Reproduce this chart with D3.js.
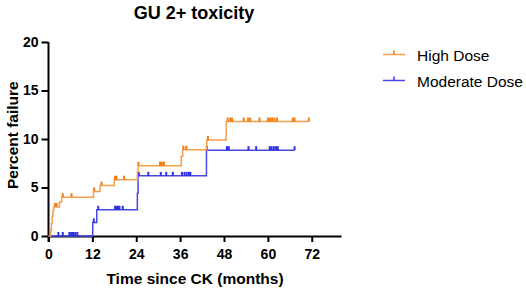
<!DOCTYPE html>
<html>
<head>
<meta charset="utf-8">
<title>GU 2+ toxicity</title>
<script src="https://cdn.jsdelivr.net/npm/d3@7"></script>
<style>
  body { margin: 0; background: #fff; }
  text { font-family: Arial, "Liberation Sans", sans-serif; }
</style>
</head>
<body>
<script>
// step events (month, cumulative percent failure) and censored times
var highSteps = [[0, 0], [0.6, 0.6], [0.8, 1.3], [1.0, 2.0], [1.2, 2.6], [1.4, 3.0], [3.0, 3.5], [3.6, 4.0],
                 [12.3, 4.6], [14.1, 5.2], [18.0, 5.8], [24.3, 6.6], [24.5, 7.25], [36.3, 8.2], [36.7, 8.9],
                 [43.3, 9.9], [48.6, 11.8]];
var highEnd = 71.2;
var highCensor = [1.8, 2.2, 3.9, 6.3, 12.5, 14.5, 18.2, 18.6, 20.7, 24.6, 30.5, 31.0, 31.6, 36.9, 37.7,
                  43.6, 49.0, 49.7, 50.2, 53.4, 54.6, 55.2, 57.7, 60.0, 60.6, 61.2, 61.8, 62.5, 66.8, 67.3, 71.2];

var modSteps = [[0, 0], [12.1, 1.4], [13.2, 2.7], [24.3, 4.4], [24.5, 6.2], [43.2, 8.85]];
var modEnd = 67.3;
var modCensor = [2.7, 3.9, 5.7, 6.2, 6.7, 7.3, 7.9, 12.4, 13.6, 18.2, 18.6, 19.0, 19.4, 20.3, 24.7, 27.3,
                 30.7, 32.2, 34.0, 36.5, 37.2, 37.8, 38.4, 38.8, 43.3, 48.8, 49.3, 54.7, 56.8,
                 60.5, 61.0, 61.6, 62.2, 62.7, 67.3];

var xTicks = [0, 12, 24, 36, 48, 60, 72];
var yTicks = [0, 5, 10, 15, 20];
var seriesNames = ["High Dose", "Moderate Dose"];

var width = 526, height = 291;
var margin = {left: 48.5, top: 42, right: 185, bottom: 55};

var svg = d3.select("body").append("svg")
    .attr("width", width)
    .attr("height", height);

var x = d3.scaleLinear().domain([0, 80]).range([margin.left, 341]);
var y = d3.scaleLinear().domain([0, 20]).range([236, margin.top]);

// axes
var xAxis = svg.append("g")
    .attr("transform", "translate(0," + y(0) + ")")
    .call(d3.axisBottom(x).tickValues(xTicks).tickSize(6).tickPadding(7).tickSizeOuter(0));
var yAxis = svg.append("g")
    .attr("transform", "translate(" + x(0) + ",0)")
    .call(d3.axisLeft(y).tickValues(yTicks).tickSize(7).tickPadding(3).tickSizeOuter(0));

[xAxis, yAxis].forEach(function (g) {
    g.select(".domain").attr("stroke", "#000").attr("stroke-width", 2);
    g.selectAll(".tick line").attr("stroke", "#000").attr("stroke-width", 2);
    g.selectAll(".tick text")
        .attr("fill", "#000")
        .style("font-size", "14px")
        .style("font-weight", "bold");
});
// y axis reaches down past the x axis
yAxis.select(".domain").attr("d", "M0," + y(20) + "V" + (y(0) + 6));

// step line helper
function stepPath(steps, end) {
    var pts = steps.map(function (d) { return [x(d[0]), y(d[1])]; });
    pts.push([x(end), y(steps[steps.length - 1][1])]);
    return d3.line().curve(d3.curveStepAfter)(pts);
}

function valueAt(steps, t) {
    var v = 0;
    steps.forEach(function (d) { if (d[0] <= t) v = d[1]; });
    return v;
}

function drawSeries(steps, end, censor, lineColor, tickColor) {
    var g = svg.append("g");
    g.append("path")
        .attr("d", stepPath(steps, end))
        .attr("fill", "none")
        .attr("stroke", lineColor)
        .attr("stroke-width", 1.5);
    g.selectAll("line.censor")
        .data(censor)
        .enter().append("line")
        .attr("class", "censor")
        .attr("x1", function (d) { return x(d); })
        .attr("x2", function (d) { return x(d); })
        .attr("y1", function (d) { return y(valueAt(steps, d)); })
        .attr("y2", function (d) { return y(valueAt(steps, d)) - 4; })
        .attr("stroke", tickColor)
        .attr("stroke-width", 2);
}

drawSeries(modSteps, modEnd, modCensor, "#4848e6", "#3030e0");
drawSeries(highSteps, highEnd, highCensor, "#f4a04a", "#f07d16");

// title and axis labels
svg.append("text")
    .attr("x", 194).attr("y", 19)
    .attr("text-anchor", "middle")
    .style("font-size", "18px").style("font-weight", "bold")
    .text("GU 2+ toxicity");

svg.append("text")
    .attr("x", 195).attr("y", 284)
    .attr("text-anchor", "middle")
    .style("font-size", "15.5px").style("font-weight", "bold")
    .text("Time since CK (months)");

svg.append("text")
    .attr("transform", "translate(18," + y(10.4) + ") rotate(-90)")
    .attr("text-anchor", "middle")
    .style("font-size", "15.5px").style("font-weight", "bold")
    .text("Percent failure");

// legend
var legendColors = [["#f4a04a", "#f07d16"], ["#4848e6", "#3030e0"]];
var legend = svg.selectAll("g.legend")
    .data(seriesNames)
    .enter().append("g")
    .attr("class", "legend")
    .attr("transform", function (d, i) { return "translate(383," + (54.5 + i * 26) + ")"; });
legend.append("line")
    .attr("x1", 0).attr("x2", 22).attr("y1", 0).attr("y2", 0)
    .attr("stroke", function (d, i) { return legendColors[i][0]; })
    .attr("stroke-width", 1.5);
legend.append("line")
    .attr("x1", 11).attr("x2", 11).attr("y1", 0).attr("y2", -4)
    .attr("stroke", function (d, i) { return legendColors[i][1]; })
    .attr("stroke-width", 1.5);
legend.append("text")
    .attr("x", 34).attr("y", 6)
    .style("font-size", "15.5px")
    .text(function (d) { return d; });
</script>
</body>
</html>
